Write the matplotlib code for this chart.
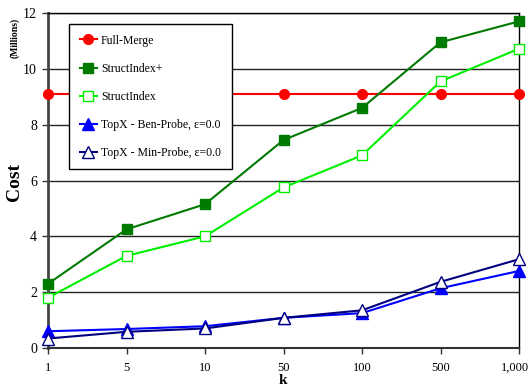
import matplotlib
matplotlib.use("Agg")
import matplotlib.pyplot as plt
import matplotlib.transforms as mtransforms

k_labels = ["1", "5", "10", "50", "100", "500", "1,000"]
full_merge = [9.1, 9.1, 9.1, 9.1, 9.1, 9.1, 9.1]
struct_plus = [2.3, 4.25, 5.15, 7.45, 8.6, 10.95, 11.7]
struct_idx = [1.8, 3.3, 4.0, 5.75, 6.9, 9.55, 10.72]
ben_probe = [0.6, 0.68, 0.78, 1.08, 1.25, 2.14, 2.76]
min_probe = [0.34, 0.58, 0.7, 1.08, 1.35, 2.37, 3.18]

plt.rcParams['font.family'] = ['Liberation Serif', 'DejaVu Serif']

W, H = 531, 387
fig = plt.figure(figsize=(W/100, H/100), dpi=100)
L, R, T, B = 48, 519, 13, 348
ax = fig.add_axes([L/W, 1-B/H, (R-L)/W, (B-T)/H])

x = list(range(len(k_labels)))
ax.plot(x, full_merge, color='#ff0000', marker='o', ms=7, lw=1.5, label='Full-Merge', clip_on=False, zorder=3)
ax.plot(x, struct_plus, color='#007a00', marker='s', ms=7, lw=1.5, label='StructIndex+', clip_on=False, zorder=3)
ax.plot(x, struct_idx, color='#00ee00', marker='s', ms=7, lw=1.5, mfc='white', mec='#00ee00', label='StructIndex', clip_on=False, zorder=3)
ax.plot(x, ben_probe, color='#0000ff', marker='^', ms=8, lw=1.5, label='TopX - Ben-Probe, \u03b5=0.0', clip_on=False, zorder=3)
ax.plot(x, min_probe, color='#000080', marker='^', ms=8, lw=1.5, mfc='white', mec='#000080', label='TopX - Min-Probe, \u03b5=0.0', clip_on=False, zorder=3)

ax.set_xlim(0, len(k_labels) - 1)
ax.set_ylim(0, 12)
ax.set_xticks(x)
ax.set_xticklabels(k_labels, fontsize=9)
ax.set_yticks([0, 2, 4, 6, 8, 10, 12])
ax.set_yticklabels(['0', '2', '4', '6', '8', '10', '12'], fontsize=10)
ax.tick_params(axis='both', direction='out', length=4, width=1, color='#333333')
ax.tick_params(axis='x', pad=6)
ax.tick_params(axis='y', pad=4)
ax.yaxis.grid(True, color='#222222', lw=1)
ax.set_axisbelow(True)
ax.spines['left'].set_linewidth(2)
ax.spines['left'].set_color('#444444')
ax.spines['bottom'].set_linewidth(1.5)
ax.spines['bottom'].set_color('#333333')
for s in ['top', 'right']:
    ax.spines[s].set_linewidth(1)
    ax.spines[s].set_color('black')

# nudge the last tick label slightly left so it stays inside the canvas
last = ax.get_xticklabels()[-1]
last.set_transform(last.get_transform() + mtransforms.ScaledTranslation(-4/100, 0, fig.dpi_scale_trans))

ax.set_xlabel('k', fontsize=11, fontweight='bold')
ax.xaxis.set_label_coords((283-L)/(R-L), -(380-B)/(B-T))
ax.xaxis.label.set_va('center')
ax.set_ylabel('Cost', fontsize=14, fontweight='bold')
ax.yaxis.set_label_coords(-(L-14)/(R-L), (B-182)/(B-T))
ax.yaxis.label.set_va('center')
fig.text(15/W, 1-38/H, '(Millions)', rotation=90, fontsize=7, fontweight='bold', ha='center', va='center')

leg = ax.legend(loc='upper left', bbox_to_anchor=((69-L)/(R-L), 1-(24-T)/(B-T)), fontsize=8.5,
                frameon=True, fancybox=False, edgecolor='black', framealpha=1,
                borderpad=0.9, labelspacing=1.36, handlelength=1.5, handletextpad=0.3, borderaxespad=0)
leg.get_frame().set_linewidth(1)
leg.set_zorder(5)

fig.savefig('out.png', dpi=100)
